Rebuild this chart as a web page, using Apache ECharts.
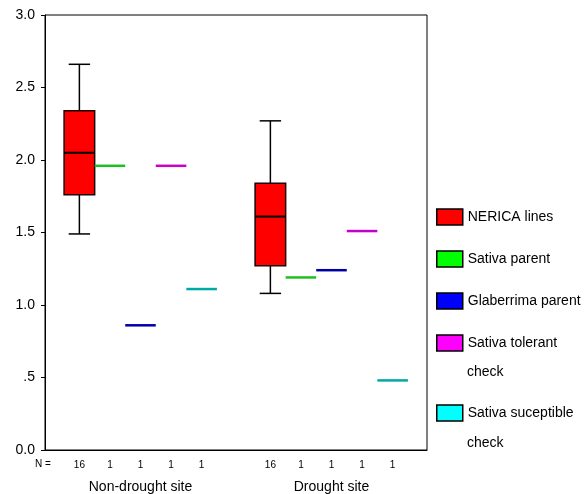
<!DOCTYPE html>
<html>
<head>
<meta charset="utf-8">
<script src="https://cdn.jsdelivr.net/npm/echarts@6/dist/echarts.min.js"></script>
<style>html,body{margin:0;padding:0;background:#fff;}#chart{width:585px;height:494px;}</style>
</head>
<body>
<div id="chart"></div>
<script>
// ---- data ----
const categories = ['Non-drought site', 'Drought site'];
const seriesNames = ['NERICA lines', 'Sativa parent', 'Glaberrima parent', 'Sativa tolerant check', 'Sativa suceptible check'];
// NERICA lines box stats per site: [min, q1, median, q3, max]
const nericaBox = [[1.49, 1.76, 2.05, 2.34, 2.66], [1.08, 1.27, 1.61, 1.84, 2.27]];
const nericaN = [16, 16];
// single-observation groups (one value per site)
const sativaParent = [1.96, 1.19];
const glaberrimaParent = [0.86, 1.24];
const sativaTolerant = [1.96, 1.51];
const sativaSusceptible = [1.11, 0.48];
const singleN = [1, 1];
const yTicks = [0, 0.5, 1.0, 1.5, 2.0, 2.5, 3.0];

// ---- styles ----
const fills = ['#ff0000', '#00ff00', '#0000ff', '#ff00ff', '#00ffff'];
const lineColors = ['#ff0000', '#1fbf1f', '#0000a8', '#c800c8', '#00a8a8'];
const FONT = '"Liberation Sans", Arial, sans-serif';

function boxData(stats, ns) {
  return stats.map((s, i) => [i, s[0], s[1], s[2], s[3], s[4], ns[i]]);
}
function singleData(vals, ns) {
  return vals.map((v, i) => [i, v, v, v, v, v, ns[i]]);
}
const allData = [
  boxData(nericaBox, nericaN),
  singleData(sativaParent, singleN),
  singleData(glaberrimaParent, singleN),
  singleData(sativaTolerant, singleN),
  singleData(sativaSusceptible, singleN)
];

function makeSeries(k) {
  return {
    type: 'custom',
    name: seriesNames[k],
    clip: false,
    itemStyle: { color: fills[k] },
    encode: { x: 0, y: [1, 2, 3, 4, 5] },
    data: allData[k],
    renderItem: function (params, api) {
      const cat = api.value(0);
      const band = api.size([1, 0])[0];
      const bw = band * 0.16;
      const base = api.coord([cat, 0]);
      const xc = base[0] + (k - 2) * bw;
      const yMin = api.coord([cat, api.value(1)])[1];
      const yQ1 = api.coord([cat, api.value(2)])[1];
      const yMed = api.coord([cat, api.value(3)])[1];
      const yQ3 = api.coord([cat, api.value(4)])[1];
      const yMax = api.coord([cat, api.value(5)])[1];
      const n = api.value(6);
      const children = [];
      if (n > 1) {
        const cap = bw * 0.7;
        const ls = { stroke: '#000', lineWidth: 1.5 };
        children.push({ type: 'line', shape: { x1: xc, y1: yMax, x2: xc, y2: yQ3 }, style: ls });
        children.push({ type: 'line', shape: { x1: xc, y1: yQ1, x2: xc, y2: yMin }, style: ls });
        children.push({ type: 'line', shape: { x1: xc - cap / 2, y1: yMax, x2: xc + cap / 2, y2: yMax }, style: ls });
        children.push({ type: 'line', shape: { x1: xc - cap / 2, y1: yMin, x2: xc + cap / 2, y2: yMin }, style: ls });
        children.push({ type: 'rect', shape: { x: xc - bw / 2, y: yQ3, width: bw, height: yQ1 - yQ3 },
          style: { fill: fills[k], stroke: '#1a0000', lineWidth: 1.5 } });
        children.push({ type: 'line', shape: { x1: xc - bw / 2, y1: yMed, x2: xc + bw / 2, y2: yMed },
          style: { stroke: '#000', lineWidth: 2 } });
      } else {
        children.push({ type: 'line', shape: { x1: xc - bw / 2, y1: yMed, x2: xc + bw / 2, y2: yMed },
          style: { stroke: lineColors[k], lineWidth: 2.5 } });
      }
      children.push({ type: 'text', x: xc, y: base[1] + 15,
        style: { text: String(n), fontSize: 10, fontFamily: FONT, fill: '#000', align: 'center', verticalAlign: 'middle' } });
      return { type: 'group', children: children };
    }
  };
}

const chart = echarts.init(document.getElementById('chart'), null, { renderer: 'canvas' });
const legendCommon = {
  orient: 'vertical', left: 436, padding: 0, itemGap: 13,
  itemWidth: 26, itemHeight: 16, icon: 'rect',
  itemStyle: { borderColor: '#000', borderWidth: 1.5 },
  selectedMode: false,
  textStyle: { fontSize: 14, fontFamily: FONT, color: '#000', lineHeight: 29 },
  formatter: function (name) { return name.replace(/ check$/, ''); }
};
chart.setOption({
  animation: false,
  backgroundColor: '#fff',
  grid: { left: 45, right: 158, top: 15, bottom: 44, show: true, borderColor: '#000', borderWidth: 1, backgroundColor: 'transparent' },
  legend: [
    Object.assign({}, legendCommon, { top: 202.5, data: seriesNames.slice(0, 4) }),
    Object.assign({}, legendCommon, { top: 398.5, data: seriesNames.slice(4) })
  ],
  graphic: [
    { type: 'text', left: 467, top: 365, style: { text: 'check', fontSize: 14, fontFamily: FONT, fill: '#000' } },
    { type: 'text', left: 467, top: 436, style: { text: 'check', fontSize: 14, fontFamily: FONT, fill: '#000' } },
    { type: 'text', left: 35, top: 459, style: { text: 'N =', fontSize: 10, fontFamily: FONT, fill: '#000' } }
  ],
  xAxis: {
    type: 'category', data: categories, boundaryGap: true,
    axisLine: { lineStyle: { color: '#000', width: 1 } },
    axisTick: { alignWithLabel: true, length: 4, lineStyle: { color: '#000' } },
    axisLabel: { margin: 30, fontSize: 14, fontFamily: FONT, color: '#000' },
    splitLine: { show: false }
  },
  yAxis: {
    type: 'value', min: 0, max: 3, interval: 0.5,
    axisLine: { show: true, lineStyle: { color: '#000', width: 1 } },
    axisTick: { show: true, length: 4, lineStyle: { color: '#000' } },
    axisLabel: { margin: 10, fontSize: 14, fontFamily: FONT, color: '#000',
      formatter: function (v) { return v === 0 ? '0.0' : (v < 1 ? String(v).replace(/^0/, '') : v.toFixed(1)); } },
    splitLine: { show: false }
  },
  series: [0, 1, 2, 3, 4].map(makeSeries)
});
</script>
</body>
</html>
